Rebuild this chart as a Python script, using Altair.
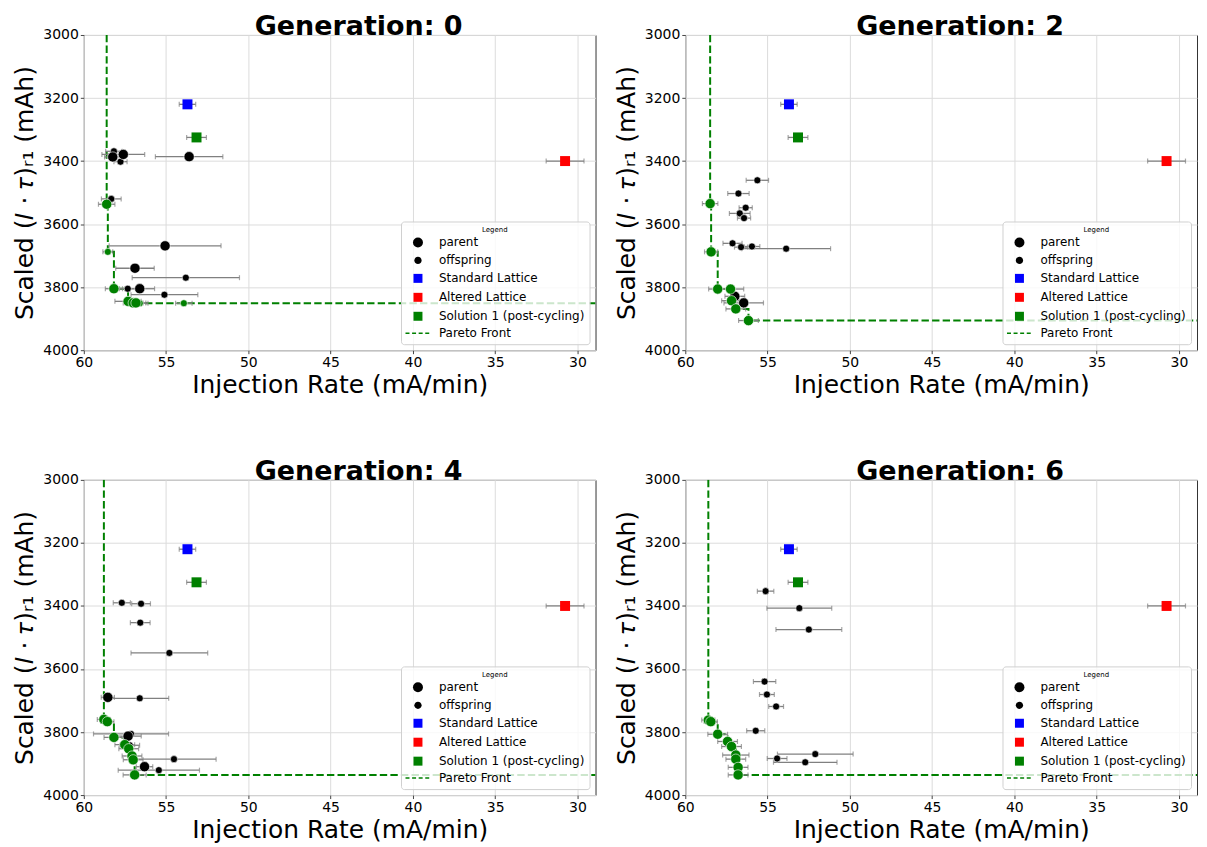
import altair as alt
import pandas as pd

FONT = "DejaVu Sans"
GREEN = "#008000"
GRAY = "#808080"

X_LEFT, X_RIGHT = 60, 28.9
Y_TOP, Y_BOTTOM = 3000, 4000
X_TICKS = [30, 35, 40, 45, 50, 55, 60]
Y_TICKS = [3000, 3200, 3400, 3600, 3800, 4000]

titles = ["Generation: 0", "Generation: 2", "Generation: 4", "Generation: 6"]

# ---- Generation 0 ----
g0_x = [58.17, 58.24, 57.6, 57.77, 53.6, 58.33, 58.61, 55.06, 58.54, 56.89, 53.8,
        58.17, 57.33, 56.6, 55.1, 57.31, 57.0, 56.83, 56.6, 53.92]
g0_y = [3369, 3387, 3379, 3402, 3386, 3520, 3537, 3669, 3688, 3740, 3770,
        3805, 3805, 3805, 3824, 3845, 3850, 3850, 3851, 3851]
g0_err = [0.5, 0.5, 1.3, 0.4, 2.05, 0.6, 0.5, 3.4, 0.3, 1.17, 3.26,
          0.52, 0.5, 0.9, 2.03, 0.8, 0.6, 0.6, 0.5, 0.5]
g0_kind = ["O", "P", "P", "O", "P", "O", "P", "P", "O", "P", "O",
           "P", "O", "P", "O", "P", "P", "P", "O", "O"]
g0_front = [False, False, False, False, False, False, True, False, True, False, False,
            True, False, False, False, True, True, True, True, True]

# ---- Generation 2 ----
g2_x = [55.62, 56.77, 58.49, 56.33, 56.69, 56.43, 57.13, 56.61, 55.95, 53.87,
        58.43, 58.03, 57.25, 56.99, 57.19, 56.45, 56.93, 56.16]
g2_y = [3461, 3503, 3535, 3548, 3566, 3581, 3661, 3673, 3671, 3678,
        3688, 3806, 3806, 3829, 3843, 3850, 3869, 3906]
g2_err = [0.68, 0.65, 0.47, 0.4, 0.63, 0.4, 0.58, 0.4, 0.48, 2.7,
          0.4, 0.55, 0.8, 0.6, 0.6, 1.2, 0.6, 0.6]
g2_kind = ["O", "O", "P", "O", "O", "O", "O", "O", "O", "O",
           "P", "P", "P", "P", "P", "P", "P", "P"]
g2_front = [False, False, True, False, False, False, False, False, False, False,
            True, True, True, False, True, False, True, True]

# ---- Generation 4 ----
g4_x = [57.69, 56.52, 56.57, 54.8, 58.54, 56.6, 58.78, 58.57, 57.31, 57.13,
        58.17, 57.21, 57.51, 57.27, 57.07, 57.0, 54.52, 56.31, 55.44, 56.91]
g4_y = [3390, 3393, 3453, 3549, 3690, 3693, 3760, 3767, 3813, 3806,
        3817, 3842, 3840, 3853, 3876, 3888, 3886, 3910, 3921, 3936]
g4_err = [0.52, 0.57, 0.6, 2.33, 0.4, 1.76, 0.4, 0.4, 0.8, 2.28,
          0.6, 0.6, 0.6, 0.6, 0.6, 0.6, 2.56, 0.5, 2.47, 0.7]
g4_kind = ["O", "O", "O", "O", "P", "O", "P", "P", "P", "O",
           "P", "O", "P", "P", "P", "P", "O", "P", "O", "P"]
g4_front = [False, False, False, False, False, False, True, True, False, False,
            True, False, True, True, True, True, False, False, False, True]

# ---- Generation 6 ----
g6_x = [55.12, 53.07, 52.49, 55.18, 55.04, 54.48, 58.6, 58.45, 55.72, 58.03,
        57.43, 57.19, 56.93, 56.93, 56.79, 56.79, 52.1, 54.42, 52.71]
g6_y = [3353, 3407, 3475, 3640, 3681, 3719, 3762, 3767, 3796, 3807,
        3830, 3846, 3873, 3886, 3912, 3936, 3870, 3884, 3896]
g6_err = [0.5, 1.97, 2.0, 0.68, 0.45, 0.45, 0.4, 0.4, 0.55, 0.6,
          0.6, 0.6, 0.8, 0.6, 0.6, 0.6, 2.3, 0.6, 1.93]
g6_kind = ["O", "O", "O", "O", "O", "O", "P", "P", "O", "P",
           "P", "P", "P", "P", "P", "P", "O", "O", "O"]
g6_front = [False, False, False, False, False, False, True, True, False, True,
            True, True, True, True, True, True, False, False, False]

# ---- reference designs (same in every panel) ----
ref_names = ["Standard Lattice", "Solution 1 (post-cycling)", "Altered Lattice"]
ref_x = [53.7, 53.15, 30.75]
ref_y = [3220, 3325, 3400]
ref_err = [0.5, 0.6, 1.15]
ref_colors = ["#0000ff", GREEN, "#ff0000"]

# ---- legend ----
LEG_LABELS = ["\u00a0parent", "\u00a0offspring", "Standard Lattice", "Altered Lattice",
              "Solution 1 (post-cycling)", "Pareto Front"]
SMALL_CIRCLE = "M0.73,0A0.73,0.73,0,1,1,-0.73,0A0.73,0.73,0,1,1,0.73,0Z"
SQUARE = "M-0.9,-0.9H0.9V0.9H-0.9Z"
DASH_PATH = "M-2.5,0H-1.7M-1.18,0H-0.38M0.14,0H0.94M1.46,0H2.26"
LEG_FILL = ["black", "black", "#0000ff", "#ff0000", GREEN, "transparent"]
LEG_STROKE = ["transparent", "transparent", "transparent", "transparent", "transparent", GREEN]
LEG_SHAPE = ["circle", SMALL_CIRCLE, SQUARE, SQUARE, SQUARE, DASH_PATH]

Y_TITLE = "Scaled (\U0001D43C \u00b7 \U0001D70F)\u1d63\u2081 (mAh)"

xscale = alt.Scale(domain=[X_RIGHT, X_LEFT], reverse=True, nice=False, zero=False)
yscale = alt.Scale(domain=[Y_TOP, Y_BOTTOM], reverse=True, nice=False, zero=False)

axis_common = dict(labelFont=FONT, labelFontSize=14, labelColor="black",
                   titleFont=FONT, titleFontSize=25, titleFontWeight="normal",
                   titleColor="black", tickSize=3.5, tickColor="#444", domain=False,
                   grid=True, gridColor="#dcdcdc", gridWidth=1, labelPadding=2,
                   labelFlush=False, format="d")
xaxis = alt.Axis(values=X_TICKS, title="Injection Rate (mA/min)", titlePadding=3, **axis_common)
yaxis = alt.Axis(values=Y_TICKS, title=Y_TITLE, titlePadding=5, **axis_common)


def X(field):
    return alt.X(f"{field}:Q", scale=xscale, axis=xaxis)


def Y(field="y"):
    return alt.Y(f"{field}:Q", scale=yscale, axis=yaxis)


def panel(title, xs, ys, errs, kinds, fronts):
    df = pd.DataFrame({"x": xs, "y": ys, "err": errs, "kind": kinds, "front": fronts})
    df["lo"] = df["x"] - df["err"]
    df["hi"] = df["x"] + df["err"]

    fr = df[df["front"]].sort_values(["x", "y"], ascending=[False, True])
    fx = [fr["x"].iloc[0]] + list(fr["x"]) + [X_RIGHT]
    fy = [Y_TOP] + list(fr["y"]) + [fr["y"].iloc[-1]]
    front_df = pd.DataFrame({"x": fx, "y": fy, "o": list(range(len(fx)))})

    ref_df = pd.DataFrame({"name": ref_names, "x": ref_x, "y": ref_y, "err": ref_err, "c": ref_colors})
    ref_df["lo"] = ref_df["x"] - ref_df["err"]
    ref_df["hi"] = ref_df["x"] + ref_df["err"]

    layers = []
    layers.append(
        alt.Chart(front_df).mark_line(interpolate="step-after", color=GREEN, strokeWidth=2,
                                      strokeDash=[7.4, 3.2], clip=True)
        .encode(x=X("x"), y=Y(), order="o:Q")
    )
    for d in (df, ref_df):
        layers.append(alt.Chart(d).mark_rule(color=GRAY, strokeWidth=1.3)
                      .encode(x=X("lo"), x2="hi:Q", y=Y()))
        for f in ("lo", "hi"):
            layers.append(alt.Chart(d).mark_tick(orient="vertical", size=5, thickness=1.2, color=GRAY)
                          .encode(x=X(f), y=Y()))
    for front, color in ((False, "black"), (True, GREEN)):
        for kind, size in (("O", 50), ("P", 105)):
            sub = df[(df["front"] == front) & (df["kind"] == kind)]
            layers.append(
                alt.Chart(sub).mark_circle(size=size, color=color, opacity=1,
                                           stroke="white", strokeWidth=0.6)
                .encode(x=X("x"), y=Y())
            )
    layers.append(
        alt.Chart(ref_df).mark_square(size=100, opacity=1)
        .encode(x=X("x"), y=Y(), color=alt.Color("c:N", scale=None))
    )

    leg = alt.Legend(title="Legend", orient="bottom-right", offset=6,
                     titleFont=FONT, titleFontSize=7, titleFontWeight="normal",
                     titleAnchor="middle", titleColor="black", titlePadding=3,
                     labelFont=FONT, labelFontSize=12, labelColor="black",
                     fillColor="rgba(255,255,255,0.8)", strokeColor="#d0d0d0",
                     padding=5, cornerRadius=3, rowPadding=3, labelOffset=15,
                     symbolOffset=6, symbolSize=100, symbolStrokeWidth=1.5)
    leg_df = pd.DataFrame({"cat": LEG_LABELS, "x": [None] * 6, "y": [None] * 6})
    layers.append(
        alt.Chart(leg_df).mark_point(opacity=1, size=100)
        .encode(
            x=X("x"), y=Y(),
            fill=alt.Fill("cat:N", scale=alt.Scale(domain=LEG_LABELS, range=LEG_FILL), legend=leg),
            stroke=alt.Stroke("cat:N", scale=alt.Scale(domain=LEG_LABELS, range=LEG_STROKE), legend=leg),
            shape=alt.Shape("cat:N", scale=alt.Scale(domain=LEG_LABELS, range=LEG_SHAPE), legend=leg),
        )
    )

    return alt.layer(*layers).properties(
        width=513, height=316,
        title=alt.TitleParams(text=title, font=FONT, fontSize=27, fontWeight="bold",
                              color="black", offset=-13, anchor="middle", dx=19),
    )


panels = [
    panel(titles[0], g0_x, g0_y, g0_err, g0_kind, g0_front),
    panel(titles[1], g2_x, g2_y, g2_err, g2_kind, g2_front),
    panel(titles[2], g4_x, g4_y, g4_err, g4_kind, g4_front),
    panel(titles[3], g6_x, g6_y, g6_err, g6_kind, g6_front),
]

chart = (
    alt.concat(*panels, columns=2, spacing={"row": 59, "column": 17})
    .resolve_scale(fill="independent", stroke="independent", shape="independent")
    .configure(padding={"left": 4, "top": 3, "right": 1, "bottom": 0}, background="white")
    .configure_view(stroke="#333", strokeWidth=1)
)

chart.save("out.html", embed_options={"renderer": "svg", "actions": False})
